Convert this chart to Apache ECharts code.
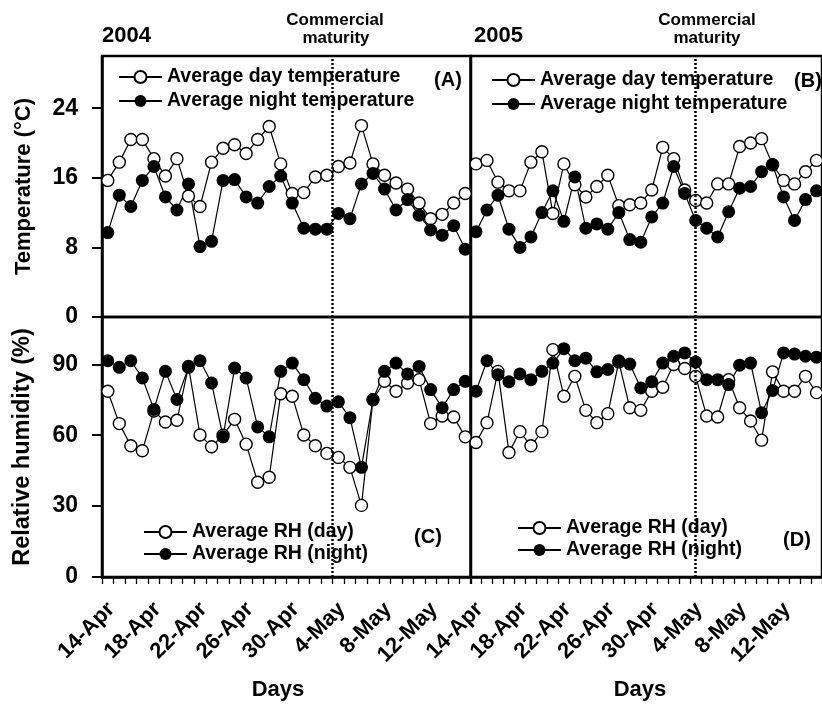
<!DOCTYPE html>
<html>
<head>
<meta charset="utf-8">
<script src="https://cdn.jsdelivr.net/npm/echarts@6/dist/echarts.min.js"></script>
<style>
html,body{margin:0;padding:0;background:#fff;}
#chart{width:822px;height:704px;}
</style>
</head>
<body>
<div id="chart"></div>
<script>
// ---- data ----
const dates = ['14-Apr','15-Apr','16-Apr','17-Apr','18-Apr','19-Apr','20-Apr','21-Apr','22-Apr','23-Apr','24-Apr','25-Apr','26-Apr','27-Apr','28-Apr','29-Apr','30-Apr',
  '1-May','2-May','3-May','4-May','5-May','6-May','7-May','8-May','9-May','10-May','11-May','12-May','13-May','14-May','15-May'];

const dayTemp2004   = [15.7,17.8,20.4,20.4,18.2,16.2,18.2,13.9,12.7,17.8,19.4,19.8,18.8,20.4,21.9,17.6,14.2,14.3,16.1,16.3,17.3,17.7,22.0,17.6,16.3,15.4,14.7,13.1,11.3,11.8,13.1,14.2];
const nightTemp2004 = [9.7,14.0,12.7,15.7,17.3,13.8,12.3,15.3,8.1,8.7,15.7,15.8,13.8,13.1,15.0,16.2,13.1,10.2,10.1,10.1,11.9,11.3,15.3,16.5,14.7,12.3,13.5,11.7,10.0,9.4,10.5,7.8];
const dayTemp2005   = [17.6,18.0,15.5,14.5,14.5,17.8,19.0,11.9,17.6,15.2,13.8,15.0,16.3,12.8,12.9,13.1,14.6,19.5,18.2,14.6,13.4,13.1,15.3,15.3,19.6,20.0,20.5,17.5,15.7,15.3,16.7,18.0];
const nightTemp2005 = [9.8,12.3,14.0,10.1,8.0,9.2,12.0,14.5,11.0,16.1,10.2,10.7,10.1,12.0,8.9,8.6,11.5,13.1,17.3,14.2,11.1,10.2,9.2,12.1,14.8,15.0,16.7,17.5,13.8,11.1,13.5,14.5];

const dayRH2004   = [78.6,64.9,55.5,53.4,70.2,65.6,66.3,89.1,60.1,55.1,60.0,66.7,56.2,40.1,42.2,77.5,76.5,60.1,55.5,52.3,50.6,46.4,30.3,75.0,82.8,78.6,82.1,83.5,64.9,68.1,67.7,59.3];
const nightRH2004 = [91.5,88.7,91.5,84.2,70.9,87.0,75.1,88.7,91.5,82.1,59.3,88.4,84.2,63.5,59.3,87.0,90.5,83.5,75.6,72.3,74.1,67.4,46.4,75.1,87.0,90.5,85.9,89.1,79.3,71.6,79.3,82.8];
const dayRH2005   = [56.9,65.3,87.0,52.7,61.5,55.5,61.5,96.2,76.5,84.9,70.5,65.3,69.1,91.0,71.6,70.5,78.6,80.3,89.9,88.2,84.9,68.1,67.7,83.5,71.6,66.0,57.9,86.8,78.6,78.6,84.9,78.0];
const nightRH2005 = [78.6,91.5,85.6,82.6,85.9,83.5,87.0,90.5,96.6,91.5,92.6,86.8,87.8,91.5,90.1,80.0,82.6,90.5,93.4,94.8,91.0,83.5,83.5,81.4,89.6,90.5,69.5,78.9,94.8,94.3,93.4,93.0];

// commercial maturity, as day index (2004 between 3-May and 4-May, 2005 on 4-May)
const maturity2004 = 19.5;
const maturity2005 = 20;

const tempTicks = [0, 8, 16, 24];
const rhTicks = [0, 30, 60, 90];

const names = {
  dayT: 'Average day temperature',
  nightT: 'Average night temperature',
  dayRH: 'Average RH (day)',
  nightRH: 'Average RH (night)'
};

// ---- chart ----
const FONT = "'Liberation Sans', Arial, sans-serif";
const chart = echarts.init(document.getElementById('chart'), null, {renderer: 'canvas'});

const grids = [
  {left: 102, top: 56, width: 369, height: 261},
  {left: 470.5, top: 56, width: 366.5, height: 261},
  {left: 102, top: 317, width: 369, height: 260},
  {left: 470.5, top: 317, width: 366.5, height: 260}
].map(g => Object.assign({show: true, borderColor: '#000', borderWidth: 2.5, backgroundColor: 'transparent', containLabel: false}, g));

function catAxis(gi, bottom) {
  return {
    type: 'category', gridIndex: gi, data: dates, boundaryGap: true,
    axisLine: {show: bottom, onZero: false, lineStyle: {color: '#000', width: 2.5}},
    axisTick: {show: bottom, interval: 0, length: 7, lineStyle: {color: '#000', width: 1.3}},
    axisLabel: {show: bottom, interval: 3, rotate: 45, align: 'right', verticalAlign: 'top', margin: 17,
      padding: [0, 6, 0, 0],
      color: '#000', fontFamily: FONT, fontWeight: 'bold', fontSize: 22},
    splitLine: {show: false}
  };
}
function hiddenX(gi) {
  return {type: 'value', gridIndex: gi, min: -0.5, max: 31.5, show: false, splitLine: {show: false},
    axisLine: {show: false, onZero: false}};
}
function valAxis(gi, max, ticks, name, shown, nameSize) {
  return {
    type: 'value', gridIndex: gi, min: 0, max: max,
    splitLine: {show: false},
    axisLine: {show: shown, onZero: false, lineStyle: {color: '#000', width: 2.5}},
    axisTick: {show: shown, inside: false, length: 10, customValues: ticks, lineStyle: {color: '#000', width: 2}},
    axisLabel: {show: shown, customValues: ticks, margin: 24, color: '#000', fontFamily: FONT, fontWeight: 'bold', fontSize: 23},
    name: shown ? name : '', nameLocation: 'middle', nameGap: 67,
    nameTextStyle: {color: '#000', fontFamily: FONT, fontWeight: 'bold', fontSize: nameSize}
  };
}

const xAxes = [catAxis(0, false), catAxis(1, false), catAxis(2, true), catAxis(3, true),
  hiddenX(0), hiddenX(1), hiddenX(2), hiddenX(3)];
const yAxes = [
  valAxis(0, 30, tempTicks, 'Temperature (\u00B0C)', true, 22),
  valAxis(1, 30, tempTicks, '', false, 22),
  valAxis(2, 110, rhTicks, 'Relative humidity (%)', true, 23.5),
  valAxis(3, 110, rhTicks, '', false, 23.5)
];

function openSeries(name, data, gi) {
  return {
    type: 'line', name: name, data: data, xAxisIndex: gi, yAxisIndex: gi,
    symbol: 'circle', symbolSize: 12, showSymbol: true, showAllSymbol: true,
    lineStyle: {color: '#000', width: 1.2},
    itemStyle: {color: '#fff', borderColor: '#000', borderWidth: 1.4},
    emphasis: {disabled: true}, animation: false
  };
}
function filledSeries(name, data, gi) {
  return {
    type: 'line', name: name, data: data, xAxisIndex: gi, yAxisIndex: gi,
    symbol: 'circle', symbolSize: 13, showSymbol: true, showAllSymbol: true,
    lineStyle: {color: '#000', width: 1.2},
    itemStyle: {color: '#000', borderColor: '#000', borderWidth: 0},
    emphasis: {disabled: true}, animation: false
  };
}
function maturitySeries(gi, pos) {
  return {
    type: 'line', name: 'maturity', xAxisIndex: 4 + gi, yAxisIndex: gi,
    data: [[pos, 0]], showSymbol: false, symbol: 'none', lineStyle: {opacity: 0},
    silent: true, animation: false,
    markLine: {silent: true, symbol: ['none', 'none'], animation: false, label: {show: false},
      lineStyle: {color: '#000', width: 2.5, type: [2, 2]},
      data: [{xAxis: pos}]}
  };
}

const series = [
  openSeries(names.dayT, dayTemp2004, 0), filledSeries(names.nightT, nightTemp2004, 0),
  openSeries(names.dayT, dayTemp2005, 1), filledSeries(names.nightT, nightTemp2005, 1),
  openSeries(names.dayRH, dayRH2004, 2), filledSeries(names.nightRH, nightRH2004, 2),
  openSeries(names.dayRH, dayRH2005, 3), filledSeries(names.nightRH, nightRH2005, 3),
  maturitySeries(0, maturity2004), maturitySeries(2, maturity2004),
  maturitySeries(1, maturity2005), maturitySeries(3, maturity2005)
];

function legend(left, top, data, gap) {
  return {
    orient: 'vertical', left: left, top: top, padding: 0, itemGap: gap,
    itemWidth: 43, itemHeight: 15, data: data, selectedMode: false,
    textStyle: {color: '#000', fontFamily: FONT, fontWeight: 'bold', fontSize: 19.5, lineHeight: 20}
  };
}

function txt(x, y, s, size, align) {
  return {type: 'text', x: x, y: y, silent: true,
    style: {text: s, fill: '#000', font: 'bold ' + size + 'px ' + FONT, align: align || 'center', verticalAlign: 'middle'}};
}

const option = {
  backgroundColor: '#fff',
  animation: false,
  grid: grids,
  xAxis: xAxes,
  yAxis: yAxes,
  legend: [
    legend(118, 67, [names.dayT, names.nightT], 4),
    legend(491, 70, [names.dayT, names.nightT], 4),
    legend(143, 522, [names.dayRH, names.nightRH], 2),
    legend(517, 518, [names.dayRH, names.nightRH], 2)
  ],
  graphic: [
    txt(102, 36, '2004', 22, 'left'),
    txt(474, 36, '2005', 22, 'left'),
    txt(335, 20, 'Commercial', 17),
    txt(336, 38, 'maturity', 17),
    txt(707, 20, 'Commercial', 17),
    txt(707, 38, 'maturity', 17),
    txt(448, 80, '(A)', 20),
    txt(808, 81, '(B)', 20),
    txt(428, 537, '(C)', 20),
    txt(797, 540, '(D)', 20),
    txt(278, 690, 'Days', 22),
    txt(640, 690, 'Days', 22)
  ],
  series: series
};
chart.setOption(option);
</script>
</body>
</html>
